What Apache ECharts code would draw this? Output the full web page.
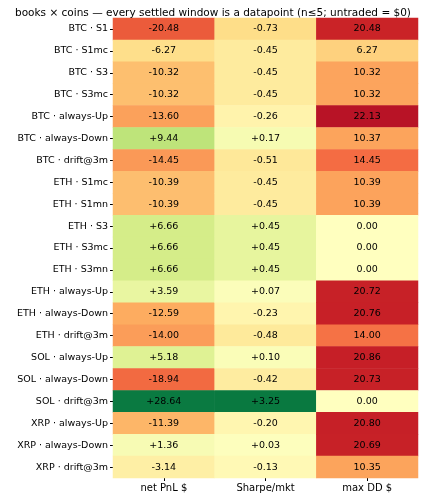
<!DOCTYPE html>
<html><head><meta charset="utf-8">
<script src="https://cdn.jsdelivr.net/npm/echarts@6/dist/echarts.min.js"></script>
<style>html,body{margin:0;padding:0;background:#fff}#c{width:426px;height:500px}</style>
</head><body><div id="c"></div>
<script>
const rows = ["BTC · S1","BTC · S1mc","BTC · S3","BTC · S3mc","BTC · always-Up","BTC · always-Down","BTC · drift@3m","ETH · S1mc","ETH · S1mn","ETH · S3","ETH · S3mc","ETH · S3mn","ETH · always-Up","ETH · always-Down","ETH · drift@3m","SOL · always-Up","SOL · always-Down","SOL · drift@3m","XRP · always-Up","XRP · always-Down","XRP · drift@3m"];
const cols = ["net PnL $","Sharpe/mkt","max DD $"];
const pnl = [-20.48,-6.27,-10.32,-10.32,-13.60,9.44,-14.45,-10.39,-10.39,6.66,6.66,6.66,3.59,-12.59,-14.00,5.18,-18.94,28.64,-11.39,1.36,-3.14];
const sharpe = [-0.73,-0.45,-0.45,-0.45,-0.26,0.17,-0.51,-0.45,-0.45,0.45,0.45,0.45,0.07,-0.23,-0.48,0.10,-0.42,3.25,-0.20,0.03,-0.13];
const maxdd = [20.48,6.27,10.32,10.32,22.13,10.37,14.45,10.39,10.39,0,0,0,20.72,20.76,14.00,20.86,20.73,0,20.80,20.69,10.35];

const stops = ["#a50026","#d73027","#f46d43","#fdae61","#fee08b","#ffffbf","#d9ef8b","#a6d96a","#66bd63","#1a9850","#006837"];
function hex(h){return [1,3,5].map(i=>parseInt(h.substr(i,2),16));}
function cmap(t){t=Math.max(0,Math.min(1,t));const p=t*10,i=Math.min(9,Math.floor(p)),f=p-i;
 const a=hex(stops[i]),b=hex(stops[i+1]);return 'rgb('+a.map((v,k)=>Math.round(v+(b[k]-v)*f)).join(',')+')';}
const data=[];
function add(arr,ci,fmt,sign,m){arr.forEach((v,ri)=>{const t=0.5+sign*v/(2*m);
 data.push({value:[ci,ri,v],label:{formatter:fmt(v)},itemStyle:{color:cmap(t)}});});}
const sg=(v,d)=> (v>0?'+':'')+v.toFixed(d);
add(pnl,0,v=>sg(v,2),1,31);
add(sharpe,1,v=>sg(v,2),1,3.5);
add(maxdd,2,v=>v.toFixed(2),-1,24);
const ch=echarts.init(document.getElementById('c'));
ch.setOption({
 animation:false,
 textStyle:{fontFamily:'DejaVu Sans'},
 title:{text:'books × coins — every settled window is a datapoint (n≤5; untraded = $0)',left:'center',top:3,textStyle:{fontSize:10.5,fontWeight:'normal',color:'#000',fontFamily:'DejaVu Sans'}},
 grid:{left:113,right:8,top:18,bottom:22},
 xAxis:{type:'category',data:cols,axisLine:{show:false},axisTick:{show:true,length:3,lineStyle:{color:'#000'},alignWithLabel:true},axisLabel:{color:'#000',fontSize:10,margin:5},splitLine:{show:false}},
 yAxis:{type:'category',data:rows,inverse:true,axisLine:{show:false},axisTick:{show:true,length:3,lineStyle:{color:'#000'},alignWithLabel:true},axisLabel:{color:'#000',fontSize:9.5,margin:5}},
 series:[{type:'heatmap',data:data,label:{show:true,fontSize:9.5,color:'#000'},itemStyle:{borderWidth:0}}]
});
</script></body></html>
